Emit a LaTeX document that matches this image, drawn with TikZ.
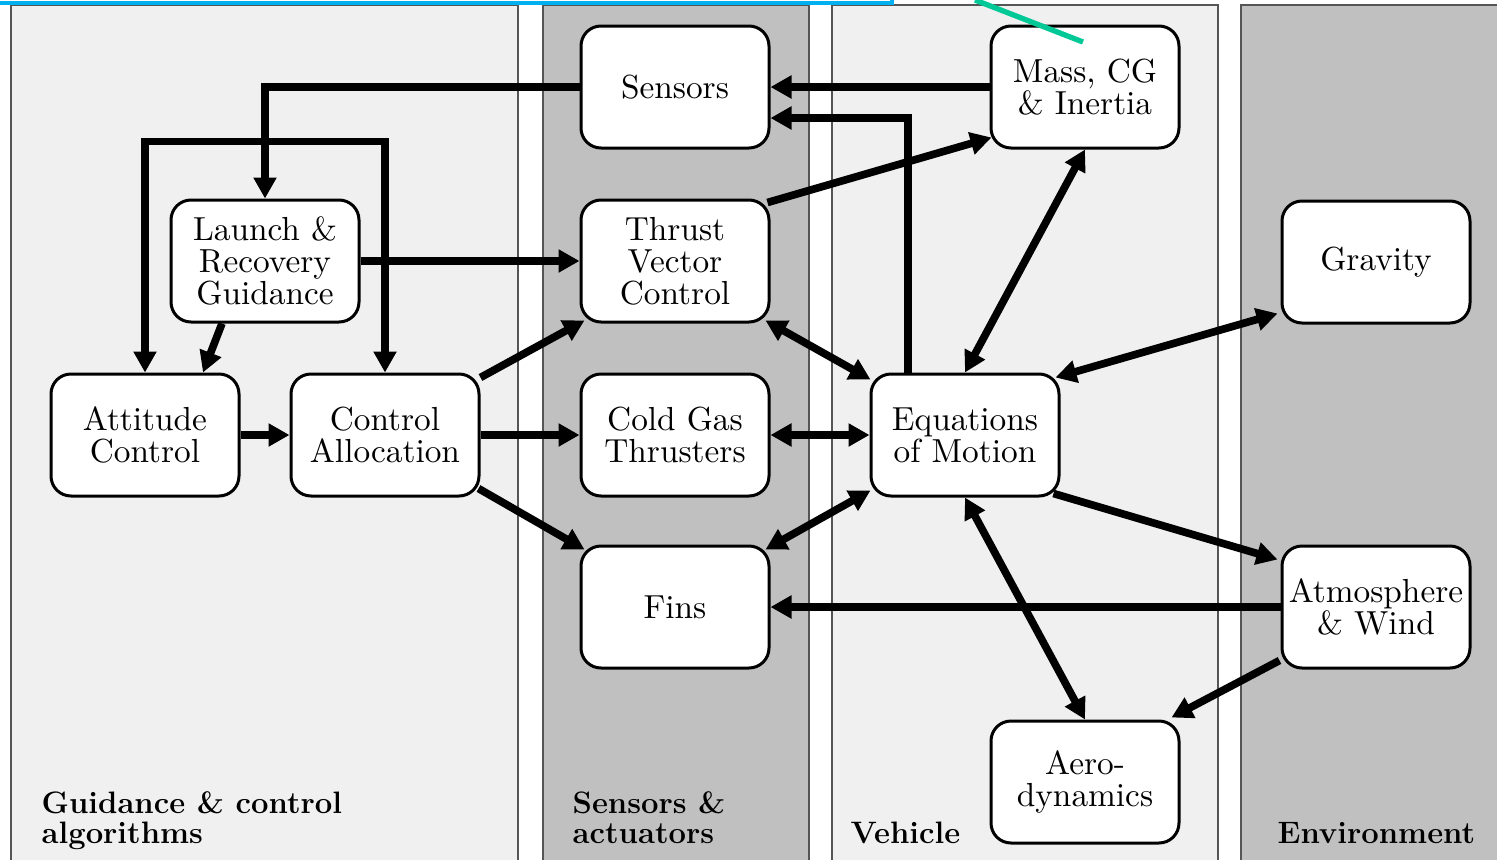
\documentclass[tikz,border=0pt]{standalone}
\usepackage{fontspec}
\usetikzlibrary{arrows.meta,calc}

\newfontface\lanebf{lmroman12-bold.otf}

\definecolor{panellight}{HTML}{F0F0F0}
\definecolor{paneldark}{HTML}{C0C0C0}
\definecolor{paneledge}{HTML}{555555}
\definecolor{markblue}{HTML}{00B0F0}
\definecolor{markgreen}{HTML}{00C896}

\tikzset{
  block/.style={draw, line width=0.9pt, rounded corners=6pt, fill=white,
    minimum width=56.4pt, minimum height=36.6pt, align=center, inner sep=0pt,
    font=\fontsize{10}{9.6}\selectfont},
  flow/.style={line width=2.3pt, -{Triangle[length=6.3pt,width=6.6pt]}},
  flowboth/.style={line width=2.3pt,
    {Triangle[length=6.3pt,width=6.6pt]}-{Triangle[length=6.3pt,width=6.6pt]}},
  panel/.style={draw=paneledge, line width=0.35pt},
  lane/.style={font=\lanebf\fontsize{9.3}{8.8}\selectfont, align=left,
    inner sep=0pt, anchor=base west},
}

\begin{document}
\begin{tikzpicture}[x=0.3pt,y=-0.3pt]
  \clip (0,0) rectangle (1497,860);
  \fill[white] (0,0) rectangle (1497,860);

  % swim lanes
  \draw[panel, fill=panellight] (11,5) rectangle (518,900);
  \draw[panel, fill=paneldark]  (543,5) rectangle (809,900);
  \draw[panel, fill=panellight] (832,5) rectangle (1218,900);
  \draw[panel, fill=paneldark]  (1241,5) rectangle (1540,900);

  % lane titles (base anchor sits on the last line)
  \node[lane] (lgc)  at (41,843)   {Guidance \& control\\algorithms};
  \node[lane] (lsa)  at (572,843)  {Sensors \&\\actuators};
  \node[lane] (lveh) at (850,843)  {Vehicle};
  \node[lane] (lenv) at (1277,843) {Environment};

  % blocks
  \node[block] (sensors) at (675,87)   {Sensors};
  \node[block] (mass)    at (1085,87)  {Mass, CG\\\& Inertia};
  \node[block] (launch)  at (265,261)  {Launch \&\\Recovery\\Guidance};
  \node[block] (tvc)     at (675,261)  {Thrust\\Vector\\Control};
  \node[block] (gravity) at (1376,262) {Gravity};
  \node[block] (att)     at (145,435)  {Attitude\\Control};
  \node[block] (ca)      at (385,435)  {Control\\Allocation};
  \node[block] (cold)    at (675,435)  {Cold Gas\\Thrusters};
  \node[block] (eom)     at (965,435)  {Equations\\of Motion};
  \node[block] (fins)    at (675,607)  {Fins};
  \node[block] (atmo)    at (1376,607) {Atmosphere\\\& Wind};
  \node[block] (aero)    at (1085,782) {Aero-\\dynamics};

  % guidance and control signals
  \coordinate (split) at ($(launch.north)+(0,-57)$);
  \draw[flow] (sensors.west) -| (launch.north);
  \draw[flow] (split) -| (att.north);
  \draw[flow] (split) -| (ca.north);
  \draw[flow] (launch.east) -- (tvc.west);
  \draw[flow] ($(launch.south)+(-43,0)$) -- ($(att.north)+(58,0)$);
  \draw[flow] (att.east) -- (ca.west);
  \draw[flow] ($(ca.north east)+(0,5)$) -- ($(tvc.south west)+(5,-3)$);
  \draw[flow] (ca.east) -- (cold.west);
  \draw[flow] ($(ca.south east)+(-2,-9)$) -- ($(fins.north west)+(5,5)$);

  % actuators and vehicle
  \draw[flowboth] ($(tvc.south east)+(-5,-3)$) -- ($(eom.north west)+(1,7)$);
  \draw[flowboth] (cold.east) -- (eom.west);
  \draw[flowboth] ($(fins.north east)+(-5,5)$) -- ($(eom.south west)+(1,-7)$);
  \draw[flow] ($(tvc.north east)+(-3,4)$) -- ($(mass.south west)+(2,-12)$);
  \draw[flow] (mass.west) -- (sensors.east);
  \draw[flow] ($(eom.north)+(-57,0)$) |- ($(sensors.east)+(0,31)$);
  \draw[flowboth] (eom.north) -- (mass.south);

  % environment
  \draw[flowboth] ($(eom.north east)+(-5,5)$) -- ($(gravity.south west)+(-3,-11)$);
  \draw[flow] ($(eom.south east)+(-7,-4)$) -- ($(atmo.north west)+(-3,15)$);
  \draw[flow] (atmo.west) -- (fins.east);
  \draw[flow] ($(atmo.south west)+(-1,-9)$) -- ($(aero.north east)+(-9,-2)$);
  \draw[flowboth] (eom.south) -- (aero.north);

  % marks along the top edge, drawn over everything
  \draw[markblue, line width=1pt] (-5,3) -- (892,3) -- (892,-5);
  \draw[markgreen, line width=1.6pt] (975,0) -- (1083,42);
\end{tikzpicture}
\end{document}
